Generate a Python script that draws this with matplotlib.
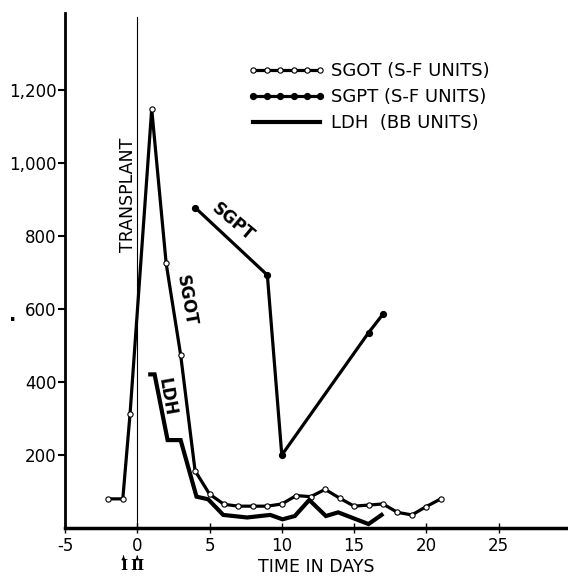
import numpy as np
from matplotlib import pyplot as plt

# SGOT (S-F units), open circles
sgot_days = [-2, -1, -0.5, 1, 2, 3, 4, 5, 6, 7, 8, 9, 10, 11, 12, 13, 14, 15, 16, 17, 18, 19, 20, 21]
sgot_vals = [79, 79, 311, 1147, 724, 474, 156, 92, 64, 59, 59, 59, 65, 88, 85, 105, 81, 59, 62, 65, 42, 35, 58, 79]

# SGPT (S-F units), filled dots
sgpt_days = [4, 9, 10, 16, 17]
sgpt_vals = [877, 692, 199, 534, 585]

# LDH (BB units), plain heavy line
ldh_days = [0.9, 1.2, 2.1, 3.0, 4.1, 4.9, 5.95, 7.6, 9.2, 10.05, 10.9, 11.9, 13.05, 13.9, 16.0, 16.9]
ldh_vals = [420, 420, 240, 240, 85, 78, 35, 28, 35, 23, 32, 76, 32, 42, 10, 35]

x_ticks = [-5, 0, 5, 10, 15, 20, 25]
y_ticks = [200, 400, 600, 800, 1000, 1200]
y_labels = ['200', '400', '600', '800', '1,000', '1,200']

plt.rcParams['font.family'] = ['DejaVu Sans']

fig = plt.figure(figsize=(5.68, 5.79), dpi=100)
ax = fig.add_axes([0.1144, 0.0886, 0.8856, 0.889])

sgot, = ax.plot(sgot_days, sgot_vals, color='black', lw=2.3, marker='o', ms=3.8,
                mfc='white', mec='black', mew=0.8, label='SGOT (S-F UNITS)')
sgpt, = ax.plot(sgpt_days, sgpt_vals, color='black', lw=2.3, marker='o', ms=4.2,
                mfc='black', mec='black', label='SGPT (S-F UNITS)')
ldh, = ax.plot(ldh_days, ldh_vals, color='black', lw=3.0, solid_joinstyle='miter',
               label='LDH  (BB UNITS)')

# transplant marker line at day 0
ax.axvline(0, ymax=0.993, color='black', lw=0.8)

ax.set_xlim(-5, 29.8)
ax.set_ylim(0, 1410)
ax.set_xticks(x_ticks)
ax.set_xticklabels([str(t) for t in x_ticks])
ax.set_yticks(y_ticks)
ax.set_yticklabels(y_labels)

for s in ['top', 'right']:
    ax.spines[s].set_visible(False)
ax.spines['left'].set_linewidth(2)
ax.spines['bottom'].set_linewidth(2.5)
ax.tick_params(axis='y', direction='out', length=5, width=1.5, labelsize=12, pad=1)
ax.tick_params(axis='x', direction='inout', length=7, width=1, labelsize=12, pad=3)

# in-chart labels
ax.text(-0.64, 911, 'TRANSPLANT', rotation=90, ha='center', va='center', fontsize=12.5)
ax.text(3.4, 623, 'SGOT', rotation=-80, ha='center', va='center', fontsize=12, fontweight='bold')
ax.text(6.64, 838, 'SGPT', rotation=-40, ha='center', va='center', fontsize=12, fontweight='bold')
ax.text(2.03, 359, 'LDH', rotation=-80, ha='center', va='center', fontsize=12, fontweight='bold')

# I / II markers under day 0
ax.text(-0.95, -104, 'I', ha='center', va='center', fontsize=11, family='DejaVu Serif',
        fontweight='bold')
ax.text(0.0, -105, 'II', ha='center', va='center', fontsize=11, family='DejaVu Serif',
        fontweight='bold')
ax.annotate('', xy=(-0.95, -77), xytext=(-0.95, -86), annotation_clip=False,
            arrowprops=dict(arrowstyle='-|>', color='black', lw=0.8, mutation_scale=5))
ax.annotate('', xy=(0.0, -77), xytext=(0.0, -86), annotation_clip=False,
            arrowprops=dict(arrowstyle='-|>', color='black', lw=0.8, mutation_scale=5))

ax.set_xlabel('TIME IN DAYS', fontsize=12.5)
ax.xaxis.set_label_coords(0.5, -0.058)

fig.text(0.016, 0.446, '.', fontsize=14, fontweight='bold')

ax.legend(handles=[sgot, sgpt, ldh], loc='upper left', bbox_to_anchor=(248 / 568, 1 - 62 / 579),
          bbox_transform=fig.transFigure, frameon=False, fontsize=13, numpoints=6,
          handlelength=4.3, handletextpad=0.3, labelspacing=0.45, borderpad=0, borderaxespad=0)

fig.savefig('out.png', dpi=100)
